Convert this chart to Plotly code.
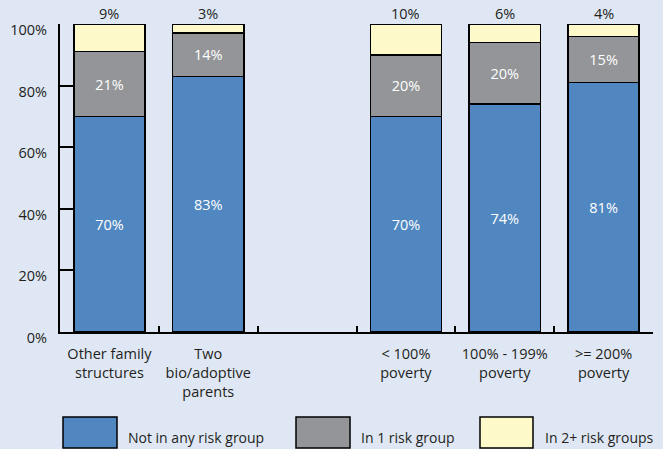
import plotly.graph_objects as go

categories = ["Other family<br>structures", "Two<br>bio/adoptive<br>parents", " ",
              "< 100%<br>poverty", "100% - 199%<br>poverty", ">= 200%<br>poverty"]
bar_categories = ["Other family<br>structures", "Two<br>bio/adoptive<br>parents",
                  "< 100%<br>poverty", "100% - 199%<br>poverty", ">= 200%<br>poverty"]
not_any = [70, 83, 70, 74, 81]
one_risk = [21, 14, 20, 20, 15]
two_plus = [9, 3, 10, 6, 4]
series_names = ["Not in any risk group", "In 1 risk group", "In 2+ risk groups"]
y_ticks = [0, 20, 40, 60, 80, 100]
y_tick_text = ["0%", "20%", "40%", "60%", "80%", "100%"]
colors = ["#5087c0", "#939598", "#fef9c9"]

FONT = "Open Sans"
FS = 14.5
BG = "#dfe7f5"
TXT = "#231f20"

fig = go.Figure()
line = dict(color="#000000", width=1.5)
fig.add_trace(go.Bar(x=bar_categories, y=not_any, name=series_names[0],
                     marker=dict(color=colors[0], line=line),
                     text=[f"{v}%" for v in not_any], textposition="inside",
                     insidetextanchor="middle",
                     textfont=dict(color="white", size=FS, family=FONT)))
fig.add_trace(go.Bar(x=bar_categories, y=one_risk, name=series_names[1],
                     marker=dict(color=colors[1], line=line),
                     text=[f"{v}%" for v in one_risk], textposition="inside",
                     insidetextanchor="middle",
                     textfont=dict(color="white", size=FS, family=FONT)))
fig.add_trace(go.Bar(x=bar_categories, y=two_plus, name=series_names[2],
                     marker=dict(color=colors[2], line=line),
                     textposition="none"))

# labels above bars for top segment
for c, a, b, v in zip(bar_categories, not_any, one_risk, two_plus):
    fig.add_annotation(x=c, y=a + b + v, text=f"{v}%", showarrow=False,
                       yanchor="bottom", yshift=-1,
                       font=dict(size=FS, color=TXT, family=FONT))

# custom legend with large boxes
W, H = 593, 308
def px_x(p):
    return (p - 60) / W
def px_y(p):
    return (332 - p) / H

legend_items = [(63, 117, 126), (296, 350, 359), (480, 533, 543)]
for (x0, x1, tx), name, col in zip(legend_items, series_names, colors):
    fig.add_shape(type="rect", xref="paper", yref="paper",
                  x0=px_x(x0), x1=px_x(x1), y0=px_y(448), y1=px_y(417),
                  fillcolor=col, line=dict(color="#000000", width=1.5))
    fig.add_annotation(xref="paper", yref="paper", x=px_x(tx), y=px_y(437),
                       text=name, showarrow=False, xanchor="left", yanchor="middle",
                       font=dict(size=14, color=TXT, family=FONT))

fig.update_layout(
    barmode="stack",
    bargap=0.28,
    width=663, height=449,
    margin=dict(l=60, r=10, t=24, b=117),
    paper_bgcolor=BG, plot_bgcolor=BG,
    showlegend=False,
    font=dict(family=FONT, size=FS, color=TXT),
    xaxis=dict(type="category", categoryorder="array", categoryarray=categories,
               tickson="boundaries", ticks="inside", ticklen=6, tickwidth=2,
               tickcolor="#000000", showline=True, linecolor="#000000", linewidth=2,
               showgrid=False, ticklabelstandoff=8,
               tickfont=dict(size=FS, color=TXT, family=FONT),
               range=[-0.5, 5.5]),
    yaxis=dict(range=[0, 100], tickmode="array", tickvals=y_ticks, ticktext=y_tick_text,
               ticks="inside", ticklen=13, tickwidth=2, tickcolor="#000000",
               showline=True, linecolor="#000000", linewidth=2,
               showgrid=False, zeroline=False, ticklabelstandoff=8,
               ticklabelshift=6,
               tickfont=dict(size=FS, color=TXT, family=FONT)),
)

fig.write_html("out.html")
